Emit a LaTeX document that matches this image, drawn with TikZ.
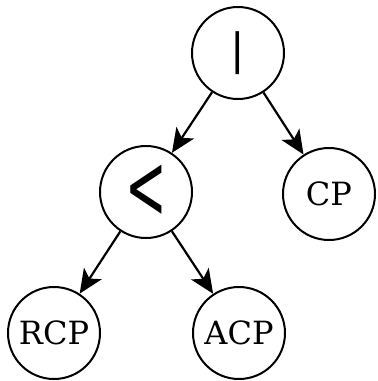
\documentclass[tikz,border=0pt]{standalone}
\usepackage{fontspec}
\setmainfont{DejaVu Serif}
\newfontfamily\symfont{DejaVu Sans}
\usetikzlibrary{arrows.meta}
\begin{document}
\begin{tikzpicture}[x=1pt, y=-1pt,
    treenode/.style={circle, draw, line width=2pt, minimum size=92pt, inner sep=0pt, font=\fontsize{32}{32}\selectfont},
    edge/.style={line width=2.2pt, -{Stealth[length=24pt, width=21pt, inset=6pt]}}]
    \useasboundingbox (0,0) rectangle (378,381);

    % operators
    \node[treenode] (bar) at (238,53) {\symfont\fontsize{43}{43}\selectfont |};
    \node[treenode] (less) at (146,192) {\symfont\fontsize{46}{46}\selectfont\scalebox{1.08}[2.0]{<}};

    % leaves
    \node[treenode] (cp) at (329,194) {CP};
    \node[treenode] (rcp) at (54,333) {RCP};
    \node[treenode] (acp) at (239,333) {ACP};

    \draw[edge] (bar) -- (less);
    \draw[edge] (bar) -- (cp);
    \draw[edge] (less) -- (rcp);
    \draw[edge] (less) -- (acp);
\end{tikzpicture}
\end{document}
